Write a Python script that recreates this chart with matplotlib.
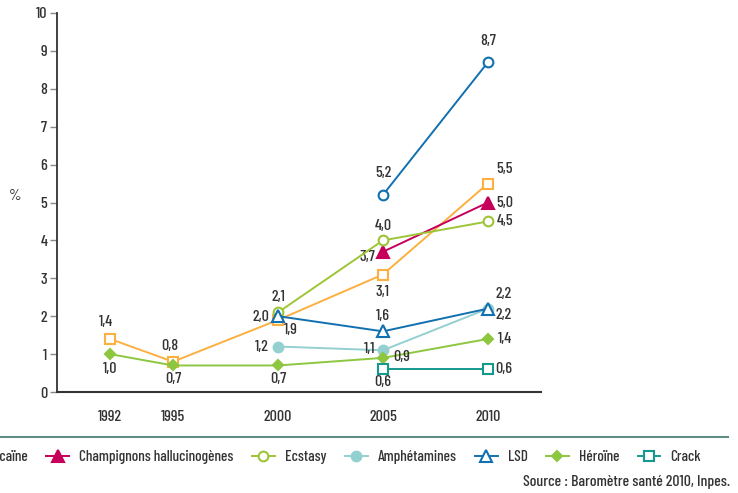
import matplotlib
matplotlib.use("Agg")
import matplotlib.pyplot as plt
from matplotlib.lines import Line2D

plt.rcParams['font.family'] = ['Barlow Condensed', 'DejaVu Sans']
plt.rcParams['font.weight'] = 500
plt.rcParams['text.color'] = '#333333'

# data (French decimal comma in labels)
years_all = [1992, 1995, 2000, 2005, 2010]
years_00 = [2000, 2005, 2010]
years_05 = [2005, 2010]

poppers = [5.2, 8.7]
cocaine = [1.4, 0.8, 1.9, 3.1, 5.5]
champignons = [3.7, 5.0]
ecstasy = [2.1, 4.0, 4.5]
amphetamines = [1.2, 1.1, 2.2]
lsd = [2.0, 1.6, 2.2]
heroine = [1.0, 0.7, 0.7, 0.9, 1.4]
crack = [0.6, 0.6]

# label, x, y, color, marker, filled, label offsets (pixels)
series = [
    ("Poppers", years_05, poppers, '#1170b0', 'o', False,
     [(0, 22), (0, 21)]),
    ("Cocaïne", years_all, cocaine, '#fbb040', 's', False,
     [(-4, 17), (-3, 16), (13, -10), (0, -17), (17, 15)]),
    ("Champignons hallucinogènes", years_05, champignons, '#c6005a', '^', True,
     [(-16, -5), (17, 0)]),
    ("Ecstasy", years_00, ecstasy, '#9dc535', 'o', False,
     [(0, 15), (0, 14), (17, 0)]),
    ("Amphétamines", years_00, amphetamines, '#93d0cf', 'o', True,
     [(-16, 0), (-13, 1), (16, -6)]),
    ("LSD", years_00, lsd, '#1170b0', '^', False,
     [(-17, -1), (0, 15), (16, 15)]),
    ("Héroïne", years_all, heroine, '#8dc63f', 'D', True,
     [(0, -15), (0, -14), (0, -14), (19, 1), (17, 0)]),
    ("Crack", years_05, crack, '#16998d', 's', False,
     [(0, -13), (16, 0)]),
]

msize = {'o': 7, 's': 7, '^': 8, 'D': 5.5}
fs = 11.5

fig = plt.figure(figsize=(7.38, 4.93), dpi=100)
ax = fig.add_axes([57 / 738, 1 - 392 / 493, 484 / 738, 379 / 493])

handles = []
for name, xs, ys, col, mk, filled, offs in series:
    h, = ax.plot(xs, ys, '-', color=col, lw=1.4, marker=mk,
                 markersize=msize[mk], markeredgewidth=1.5,
                 markerfacecolor=col if filled else 'white',
                 markeredgecolor=col, label=name, zorder=3)
    handles.append(h)
    for x, y, (dx, dy) in zip(xs, ys, offs):
        ax.annotate(("%.1f" % y).replace('.', ','), (x, y),
                    xytext=(dx, dy), textcoords='offset pixels',
                    ha='center', va='center', fontsize=fs, color='#333333')

ax.set_xlim(1989.47, 2012.53)
ax.set_ylim(0, 10)
ax.set_xticks(years_all)
ax.set_yticks(range(0, 11))
ax.tick_params(axis='x', length=0, pad=13, labelsize=fs, labelcolor='#333333')
ax.tick_params(axis='y', length=5, width=1, color='#888888', pad=2,
               labelsize=fs, labelcolor='#333333')

ax.spines['top'].set_visible(False)
ax.spines['right'].set_visible(False)
ax.spines['left'].set_color('#333333')
ax.spines['bottom'].set_color('#333333')
ax.spines['left'].set_linewidth(1.3)
ax.spines['bottom'].set_linewidth(1.5)

ax.set_ylabel('%', rotation=0, fontsize=fs, color='#333333')
ax.yaxis.set_label_coords(-0.087, 0.5)

# separator line above legend
fig.add_artist(Line2D([0, 728 / 738], [1 - 437 / 493] * 2,
                      transform=fig.transFigure, color='#5f8d86', lw=1.5))

leg = fig.legend(handles, [h.get_label() for h in handles], ncol=8,
                 loc='center right', bbox_to_anchor=(701 / 738, 1 - 457 / 493),
                 frameon=False, fontsize=11, handlelength=1.5,
                 handletextpad=0.65, columnspacing=1.2, borderaxespad=0,
                 borderpad=0)

fig.text(730 / 738, 1 - 482 / 493, "Source : Baromètre santé 2010, Inpes.",
         ha='right', va='center', fontsize=11.4, color='#333333')

fig.savefig("out.png", dpi=100)
